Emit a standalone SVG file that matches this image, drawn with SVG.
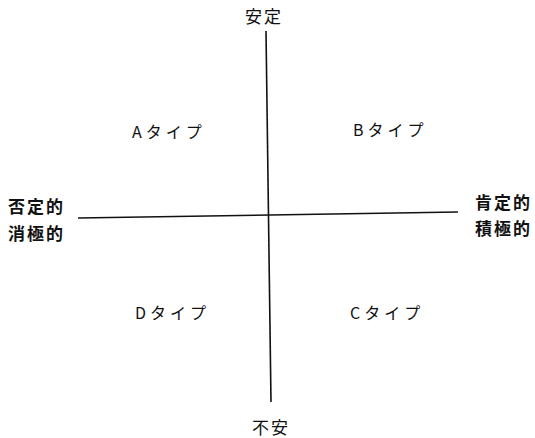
<svg xmlns="http://www.w3.org/2000/svg" width="535" height="438" viewBox="0 0 535 438">
<style>
.t{font-family:"Noto Sans CJK JP","Liberation Sans",sans-serif;font-size:16px;fill:#111}
.q{letter-spacing:4px}
.v{font-size:17px;letter-spacing:2px}
.b{font-weight:bold;font-size:17px;letter-spacing:2px}
.ax{stroke:#111;stroke-width:1.6;fill:none}
</style>
<rect width="535" height="438" fill="#fff"/>
<g id="connectors">
<line class="ax" x1="266" y1="31" x2="271" y2="402"/>
<line class="ax" x1="78" y1="218" x2="458" y2="212"/>
</g>
<g id="top"><text class="t v" x="245" y="23">安定</text></g>
<g id="bottom"><text class="t v" x="252" y="434">不安</text></g>
<g id="left"><text class="t b" x="8" y="213">否定的</text><text class="t b" x="8" y="240">消極的</text></g>
<g id="right"><text class="t b" x="475" y="209">肯定的</text><text class="t b" x="475" y="235">積極的</text></g>
<g id="typeA"><text class="t q" x="132" y="138">Aタイプ</text></g>
<g id="typeB"><text class="t q" x="353" y="136">Bタイプ</text></g>
<g id="typeD"><text class="t q" x="135" y="319">Dタイプ</text></g>
<g id="typeC"><text class="t q" x="350" y="319">Cタイプ</text></g>
</svg>
